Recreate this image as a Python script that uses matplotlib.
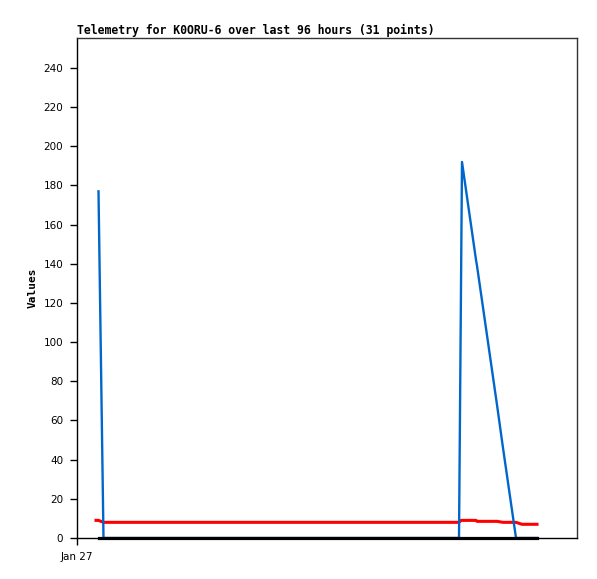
import matplotlib
matplotlib.use("Agg")
import matplotlib.pyplot as plt
import numpy as np

nan = np.nan

# hours since Jan 27 00:00
hours = [3.8, 4.3, 5.3, 8.0, 12.0, 16.0, 20.0, 24.0, 28.0, 32.0, 36.0, 40.0,
         44.0, 48.0, 52.0, 56.0, 60.0, 64.0, 68.0, 72.0, 76.4, 76.8, 77.0,
         79.8, 80.0, 84.0, 85.2, 87.8, 89.0, 90.5, 92.0]

blue_vals = [nan, 177, 0, 0, 0, 0, 0, 0, 0, 0, 0, 0,
             0, 0, 0, 0, 0, 0, 0, 0, 0, 128, 192,
             142, 139, 68, 46, 0, 0, 0, 0]

red_vals = [9, 9, 8, 8, 8, 8, 8, 8, 8, 8, 8, 8,
            8, 8, 8, 8, 8, 8, 8, 8, 8, 9, 9,
            9, 8.5, 8.5, 8, 8, 7, 7, 7]

black_vals = [nan, 0, 0, 0, 0, 0, 0, 0, 0, 0, 0, 0,
              0, 0, 0, 0, 0, 0, 0, 0, 0, 0, 0,
              0, 0, 0, 0, 0, 0, 0, 0]

yticks = list(range(0, 241, 20))

fig = plt.figure(figsize=(5.97, 5.79), dpi=100)
ax = fig.add_axes([77 / 597, 41 / 579, 500 / 597, 500 / 579])

ax.plot(hours, red_vals, color="#ff0000", linewidth=2.2, zorder=2)
ax.plot(hours, blue_vals, color="#0066cc", linewidth=1.7, zorder=3)
ax.plot(hours, black_vals, color="black", linewidth=2.3, zorder=4, clip_on=False)

ax.set_xlim(0, 100)
ax.set_ylim(0, 255.3)
ax.set_yticks(yticks)
ax.set_yticklabels([str(v) for v in yticks], fontsize=7.5)
ax.set_xticks([0])
ax.set_xticklabels(["Jan 27"], fontsize=7.5)
ax.tick_params(axis="both", length=5, width=1, direction="out", pad=5)

for side in ["top", "right"]:
    ax.spines[side].set_color("#333333")
for side in ax.spines:
    ax.spines[side].set_linewidth(1)

ax.set_ylabel("Values", fontsize=8, fontweight="bold", family="DejaVu Sans Mono")
ax.set_title("Telemetry for K0ORU-6 over last 96 hours (31 points)", loc="left",
             fontsize=8.3, fontweight="bold", family="DejaVu Sans Mono", pad=3)

plt.savefig("out.png", dpi=100)
